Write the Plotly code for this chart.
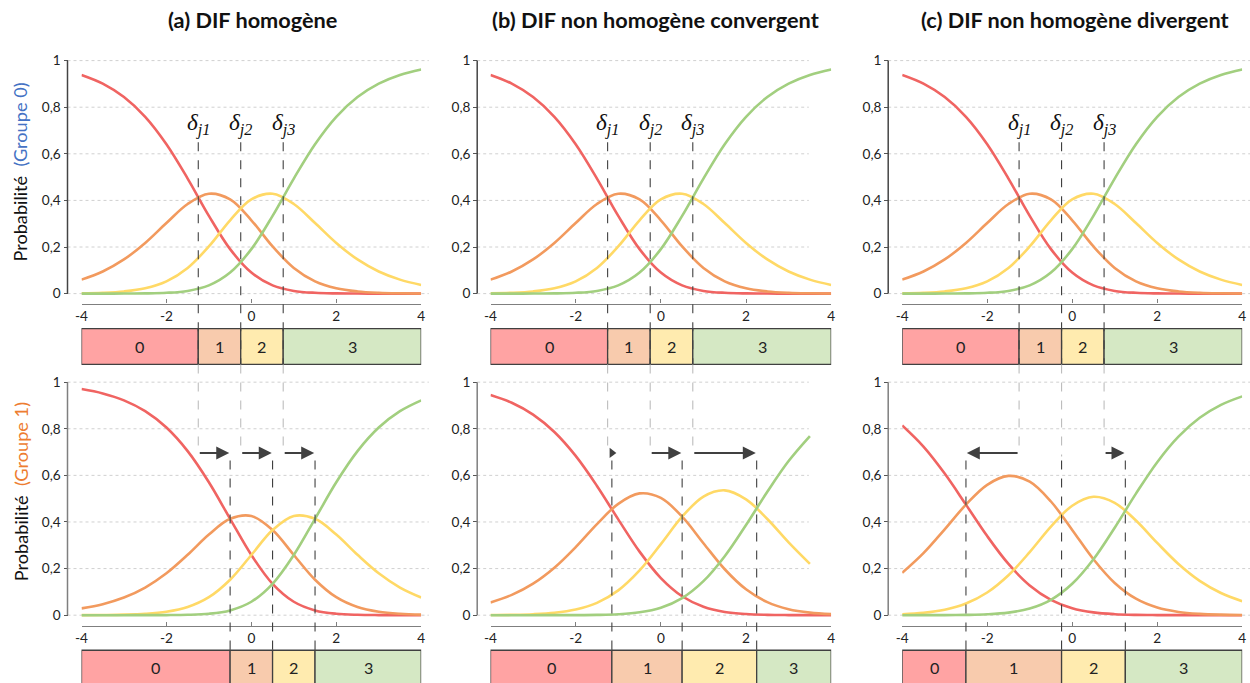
import plotly.graph_objects as go

W, H = 1250, 683

# ---------------- data ----------------
theta = [-4.0, -3.5, -3.0, -2.5, -2.0, -1.5, -1.0, -0.5, 0.0, 0.5, 1.0, 1.5, 2.0, 2.5, 3.0, 3.5, 4.0]

x_tickvals = [-4, -2, 0, 2, 4]
x_ticktext = ["-4", "-2", "0", "2", "4"]
y_tickvals = [0, 0.2, 0.4, 0.6, 0.8, 1]
y_ticktext = ["0", "0,2", "0,4", "0,6", "0,8", "1"]

categories = ["0", "1", "2", "3"]
titles = ["(a) DIF homogène", "(b) DIF non homogène convergent", "(c) DIF non homogène divergent"]
delta_labels = ["j1", "j2", "j3"]

thr_g0 = [-1.25, -0.25, 0.75]
thr_g1_a = [-0.5, 0.5, 1.5]
thr_g1_b = [-1.15, 0.5, 2.25]
thr_g1_c = [-2.5, -0.25, 1.25]

g0_cat0 = [0.9386, 0.9013, 0.8437, 0.7588, 0.6411, 0.4937, 0.3338, 0.1909, 0.0902, 0.0352, 0.0116, 0.0034, 0.0009, 0.0002, 0.0001, 0.0000, 0.0000]
g0_cat1 = [0.0600, 0.0950, 0.1466, 0.2174, 0.3029, 0.3845, 0.4286, 0.4042, 0.3148, 0.2024, 0.1102, 0.0526, 0.0229, 0.0094, 0.0037, 0.0014, 0.0005]
g0_cat2 = [0.0014, 0.0037, 0.0094, 0.0229, 0.0526, 0.1102, 0.2024, 0.3148, 0.4042, 0.4286, 0.3845, 0.3029, 0.2174, 0.1466, 0.0950, 0.0600, 0.0373]
g0_cat3 = [0.0000, 0.0001, 0.0002, 0.0009, 0.0034, 0.0116, 0.0352, 0.0902, 0.1909, 0.3338, 0.4937, 0.6411, 0.7588, 0.8437, 0.9013, 0.9386, 0.9621]

g1a_cat0 = [0.9704, 0.9517, 0.9220, 0.8755, 0.8052, 0.7041, 0.5705, 0.4136, 0.2583, 0.1345, 0.0576, 0.0206, 0.0063, 0.0017, 0.0004, 0.0001, 0.0000]
g1a_cat1 = [0.0293, 0.0474, 0.0757, 0.1185, 0.1796, 0.2590, 0.3460, 0.4136, 0.4258, 0.3655, 0.2583, 0.1522, 0.0772, 0.0351, 0.0148, 0.0059, 0.0023]
g1a_cat2 = [0.0003, 0.0009, 0.0023, 0.0059, 0.0148, 0.0351, 0.0772, 0.1522, 0.2583, 0.3655, 0.4258, 0.4136, 0.3460, 0.2590, 0.1796, 0.1185, 0.0757]
g1a_cat3 = [0.0000, 0.0000, 0.0000, 0.0001, 0.0004, 0.0017, 0.0063, 0.0206, 0.0576, 0.1345, 0.2583, 0.4136, 0.5705, 0.7041, 0.8052, 0.8755, 0.9220]

g1b_cat0 = [0.9448, 0.9115, 0.8606, 0.7860, 0.6835, 0.5548, 0.4113, 0.2728, 0.1593, 0.0812, 0.0360, 0.0139, 0.0048, 0.0015, 0.0004, 0.0001, 0.0000]
g1b_cat1 = [0.0546, 0.0870, 0.1353, 0.2037, 0.2921, 0.3910, 0.4779, 0.5226, 0.5033, 0.4227, 0.3089, 0.1971, 0.1109, 0.0559, 0.0256, 0.0110, 0.0045]
g1b_cat2 = [0.0006, 0.0016, 0.0041, 0.0101, 0.0240, 0.0529, 0.1066, 0.1923, 0.3052, 0.4227, 0.5092, 0.5358, 0.4971, 0.4128, 0.3125, 0.2203, None]
g1b_cat3 = [0.0000, 0.0000, 0.0000, 0.0001, 0.0003, 0.0012, 0.0041, 0.0123, 0.0322, 0.0734, 0.1459, 0.2531, 0.3871, 0.5299, 0.6615, 0.7687, None]

g1c_cat0 = [0.8141, 0.7234, 0.6076, 0.4744, 0.3394, 0.2199, 0.1278, 0.0660, 0.0300, 0.0119, 0.0042, 0.0013, 0.0004, 0.0001, 0.0000, 0.0000, 0.0000]
g1c_cat1 = [0.1816, 0.2661, 0.3685, 0.4744, 0.5596, 0.5978, 0.5730, 0.4879, 0.3658, 0.2400, 0.1382, 0.0706, 0.0327, 0.0140, 0.0057, 0.0022, 0.0009]
g1c_cat2 = [0.0043, 0.0103, 0.0236, 0.0500, 0.0972, 0.1713, 0.2707, 0.3800, 0.4697, 0.5081, 0.4822, 0.4064, 0.3102, 0.2196, 0.1472, 0.0951, 0.0600]
g1c_cat3 = [0.0000, 0.0001, 0.0003, 0.0012, 0.0038, 0.0110, 0.0285, 0.0660, 0.1346, 0.2400, 0.3755, 0.5217, 0.6567, 0.7663, 0.8471, 0.9026, 0.9391]

# ---------------- styles ----------------
line_colors = ["#F06462", "#F29A5E", "#FFD966", "#A2CF7F"]
bar_colors = ["#FFA3A3", "#F8CBAD", "#FFEBAF", "#D5E8C4"]
FONT = "Lato"
DARK = "#404040"
LIGHT = "#BDBDBD"

# layout positions, given in target-picture pixels
cols = [
    dict(axis=67.0, x0=81.0, x1=420.7, g1=428.3, title_x=252),
    dict(axis=476.7, x0=490.0, x1=830.7, g1=808.3, title_x=655),
    dict(axis=887.7, x0=901.7, x1=1241.7, g1=1252.0, title_x=1074),
]
rows = [
    dict(top=60.7, bot=293.3, xline=303.3, bar0=328.3, bar1=364.0),
    dict(top=381.7, bot=614.3, xline=625.0, bar0=649.3, bar1=690.0),
]
PAD = 0.02
ARROW_PX = 452.3

# the captured page appears slightly scaled/offset; compensate
SX, CX = 0.992, 5.5
SY, CY = 0.988, 4.2
FS = 1 / 0.99

panels = [
    (0, 0, [g0_cat0, g0_cat1, g0_cat2, g0_cat3], thr_g0),
    (0, 1, [g0_cat0, g0_cat1, g0_cat2, g0_cat3], thr_g0),
    (0, 2, [g0_cat0, g0_cat1, g0_cat2, g0_cat3], thr_g0),
    (1, 0, [g1a_cat0, g1a_cat1, g1a_cat2, g1a_cat3], thr_g1_a),
    (1, 1, [g1b_cat0, g1b_cat1, g1b_cat2, g1b_cat3], thr_g1_b),
    (1, 2, [g1c_cat0, g1c_cat1, g1c_cat2, g1c_cat3], thr_g1_c),
]


def px_x(p):
    return ((p - CX) / SX) / W


def px_y(p):
    return 1 - ((p - CY) / SY) / H


def v2px(row, v):
    r = rows[row]
    return r["bot"] - v * (r["bot"] - r["top"])


fig = go.Figure()
layout = dict(
    width=W, height=H, margin=dict(l=0, r=0, t=0, b=0),
    paper_bgcolor="white", plot_bgcolor="rgba(0,0,0,0)",
    showlegend=False, font=dict(family=FONT, color="#222"),
)
shapes = []
annotations = []


def ann(**kw):
    d = dict(showarrow=False, xanchor="center", yanchor="middle")
    d.update(kw)
    annotations.append(d)


for k, (row, col, series, thr) in enumerate(panels, start=1):
    c = cols[col]
    r = rows[row]
    xa = "x" if k == 1 else f"x{k}"
    ya = "y" if k == 1 else f"y{k}"
    xkey = "xaxis" if k == 1 else f"xaxis{k}"
    ykey = "yaxis" if k == 1 else f"yaxis{k}"
    h = r["bot"] - r["top"]

    for s, color in zip(series, line_colors):
        fig.add_trace(go.Scatter(
            x=theta, y=s, mode="lines", xaxis=xa, yaxis=ya,
            line=dict(color=color, width=2.6, shape="spline", smoothing=1.0),
            hoverinfo="skip", connectgaps=False,
        ))

    layout[xkey] = dict(
        domain=[px_x(c["x0"]), px_x(c["x1"])], range=[-4, 4],
        anchor="free", position=px_y(r["xline"]),
        showline=True, linecolor="#7F7F7F", linewidth=1.3,
        ticks="inside", ticklen=4, tickcolor="#7F7F7F", tickwidth=1.3,
        tickvals=x_tickvals, ticktext=x_ticktext,
        tickfont=dict(size=13.5 * FS, family=FONT, color="#222"),
        showgrid=False, zeroline=False, fixedrange=True,
    )
    layout[ykey] = dict(
        domain=[px_y(r["bot"] + PAD * h), px_y(r["top"] - PAD * h)],
        range=[-PAD, 1 + PAD],
        anchor="free", position=px_x(c["axis"]),
        showline=False, ticks="outside", ticklen=4, tickcolor="#555", tickwidth=1.2,
        tickvals=y_tickvals, ticktext=y_ticktext,
        tickfont=dict(size=13.5 * FS, family=FONT, color="#222"),
        showgrid=False, zeroline=False, fixedrange=True,
    )

    for v in y_tickvals:
        shapes.append(dict(type="line", xref="paper", yref="paper",
                           x0=px_x(c["axis"]), x1=px_x(c["g1"]),
                           y0=px_y(v2px(row, v)), y1=px_y(v2px(row, v)),
                           line=dict(color="#D0D0D0", width=1, dash="dot"), layer="below"))
    shapes.append(dict(type="line", xref="paper", yref="paper",
                       x0=px_x(c["axis"]), x1=px_x(c["axis"]),
                       y0=px_y(r["bot"]), y1=px_y(r["top"]),
                       line=dict(color="#444" if row == 0 else "#7F7F7F", width=1.5)))

    edges = [-4] + list(thr) + [4]
    for i, cat in enumerate(categories):
        shapes.append(dict(type="rect", xref=xa, yref="paper",
                           x0=edges[i], x1=edges[i + 1],
                           y0=px_y(r["bar1"]), y1=px_y(r["bar0"]),
                           fillcolor=bar_colors[i], line=dict(color=DARK, width=1.3)))
        ann(x=(edges[i] + edges[i + 1]) / 2, y=px_y(r["bar0"] + 17.5),
            xref=xa, yref="paper", text=cat,
            font=dict(size=16 * FS, family=FONT, color="#222"))

    if row == 0:
        for i, t in enumerate(thr):
            shapes.append(dict(type="line", xref=xa, yref="paper", x0=t, x1=t,
                               y0=px_y(v2px(0, 0.65)), y1=px_y(r["bar1"]),
                               line=dict(color=DARK, width=1.1, dash="dash")))
            ann(x=t, y=px_y(124), xref=xa, yref="paper",
                text=f"<i>δ</i><sub><i>{delta_labels[i]}</i></sub>",
                font=dict(size=23 * FS, family="Liberation Serif", color="#111"))
        ann(x=px_x(c["title_x"]), y=px_y(20), xref="paper", yref="paper",
            text=f"<b>{titles[col]}</b>",
            font=dict(size=21.5 * FS, family=FONT, color="#111"))
    else:
        arrow_y = (r["bot"] - ARROW_PX) / h
        for i, t in enumerate(thr):
            old = thr_g0[i]
            shapes.append(dict(type="line", xref=xa, yref="paper", x0=t, x1=t,
                               y0=px_y(460), y1=px_y(r["bar0"]),
                               line=dict(color=DARK, width=1.1, dash="dash")))
            end_y = ARROW_PX if old != t else 456
            shapes.append(dict(type="line", xref=xa, yref="paper", x0=old, x1=old,
                               y0=px_y(rows[0]["bar1"]), y1=px_y(end_y),
                               line=dict(color=LIGHT, width=1.1, dash="dash")))
            if old == t:
                continue
            if abs(t - old) < 0.3:
                fig.add_trace(go.Scatter(
                    x=[t], y=[arrow_y], mode="markers", xaxis=xa, yaxis=ya,
                    marker=dict(symbol="triangle-right" if t > old else "triangle-left",
                                size=9, color=DARK),
                    hoverinfo="skip", cliponaxis=False,
                ))
            else:
                annotations.append(dict(x=t - 0.02 * (1 if t > old else -1), y=arrow_y,
                                        xref=xa, yref=ya,
                                        ax=old, ay=arrow_y, axref=xa, ayref=ya,
                                        text="", showarrow=True, arrowhead=2,
                                        arrowsize=1.3, arrowwidth=2, arrowcolor=DARK,
                                        standoff=0, startstandoff=0))

ann(x=px_x(20), y=px_y(172), xref="paper", yref="paper", textangle=-90,
    text="Probabilité  <span style='color:#4472C4'>(Groupe 0)</span>",
    font=dict(size=18 * FS, family=FONT, color="#111"))
ann(x=px_x(20), y=px_y(491), xref="paper", yref="paper", textangle=-90,
    text="Probabilité  <span style='color:#ED7D31'>(Groupe 1)</span>",
    font=dict(size=18 * FS, family=FONT, color="#111"))

layout["shapes"] = shapes
layout["annotations"] = annotations
fig.update_layout(**layout)
fig.write_html(
    "out.html",
    config={"displayModeBar": False},
    post_script="document.body.style.margin='0';document.body.style.overflow='hidden';",
)
